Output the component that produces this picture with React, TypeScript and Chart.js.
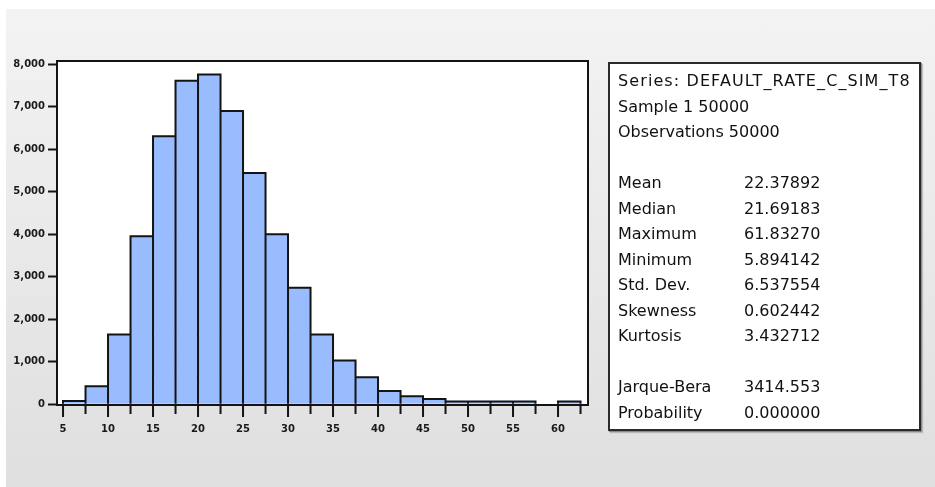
import React, { useEffect, useRef } from 'react';
import { Chart, registerables } from 'chart.js';

Chart.register(...registerables);

// ---- data ----
const binStarts = [5, 7.5, 10, 12.5, 15, 17.5, 20, 22.5, 25, 27.5, 30, 32.5, 35, 37.5, 40, 42.5, 45, 47.5, 50, 52.5, 55, 57.5, 60];
const binWidth = 2.5;
const counts = [75, 420, 1640, 3955, 6310, 7615, 7765, 6905, 5445, 4000, 2740, 1640, 1030, 635, 310, 185, 120, 60, 60, 60, 60, 0, 65];

const xTickValues = [5, 7.5, 10, 12.5, 15, 17.5, 20, 22.5, 25, 27.5, 30, 32.5, 35, 37.5, 40, 42.5, 45, 47.5, 50, 52.5, 55, 57.5, 60, 62.5];
const xTickLabels = [5, 10, 15, 20, 25, 30, 35, 40, 45, 50, 55, 60];
const yTickValues = [0, 1000, 2000, 3000, 4000, 5000, 6000, 7000, 8000];

const headerLines = ['Series: DEFAULT_RATE_C_SIM_T8', 'Sample 1 50000', 'Observations 50000'];
const statNames = ['Mean', 'Median', 'Maximum', 'Minimum', 'Std. Dev.', 'Skewness', 'Kurtosis'];
const statValues = ['22.37892', '21.69183', '61.83270', '5.894142', '6.537554', '0.602442', '3.432712'];
const testNames = ['Jarque-Bera', 'Probability'];
const testValues = ['3414.553', '0.000000'];

const W = 935;
const H = 487;
const tickFont = { family: 'DejaVu Sans', size: 10, weight: 'bold' as const };
const textColor = '#1a1a1a';
const lineColor = '#141414';

const framePlugin = {
  id: 'frame',
  beforeDatasetsDraw(chart: any) {
    const { ctx, chartArea } = chart;
    ctx.save();
    ctx.fillStyle = '#ffffff';
    ctx.fillRect(chartArea.left, chartArea.top, chartArea.right - chartArea.left, chartArea.bottom - chartArea.top);
    ctx.restore();
  },
  afterDatasetsDraw(chart: any) {
    const { ctx, chartArea } = chart;
    const xs = chart.scales.x;
    ctx.save();
    ctx.strokeStyle = lineColor;
    ctx.lineWidth = 2;
    // bar outlines (sides and top), centred on the bar edges
    const meta = chart.getDatasetMeta(0);
    ctx.beginPath();
    meta.data.forEach((bar: any, i: number) => {
      if (!counts[i]) return;
      const { x, y, base, width } = bar.getProps(['x', 'y', 'base', 'width'], true);
      const l = x - width / 2;
      const r = x + width / 2;
      ctx.moveTo(l, base);
      ctx.lineTo(l, y);
      ctx.lineTo(r, y);
      ctx.lineTo(r, base);
    });
    ctx.stroke();
    ctx.strokeRect(chartArea.left, chartArea.top, chartArea.right - chartArea.left, chartArea.bottom - chartArea.top);
    // x tick marks: labelled ones longer
    ctx.beginPath();
    xTickValues.forEach((v) => {
      const px = xs.getPixelForValue(v);
      const len = xTickLabels.includes(v) ? 12 : 9;
      ctx.moveTo(px, chartArea.bottom);
      ctx.lineTo(px, chartArea.bottom + len);
    });
    ctx.stroke();
    ctx.restore();
  },
};

function StatsBox() {
  const lineH = 25.5;
  const row = (name: string, value: string, key: string) => (
    <div key={key} style={{ display: 'flex', height: lineH, lineHeight: lineH + 'px', whiteSpace: 'nowrap' }}>
      <span style={{ width: 126, display: 'inline-block' }}>{name}</span>
      <span>{value}</span>
    </div>
  );
  return (
    <div
      style={{
        position: 'absolute',
        left: 608,
        top: 62,
        width: 313,
        height: 369,
        boxSizing: 'border-box',
        border: '2px solid #2a2a2a',
        boxShadow: '1px 1px 0 #8a8a8a, 2px 2px 1px rgba(0,0,0,0.18)',
        background: '#ffffff',
        padding: '4px 0 0 8px',
        fontFamily: '"DejaVu Sans", sans-serif',
        fontSize: 16,
        color: '#111111',
      }}
    >
      {headerLines.map((t, i) => (
        <div
          key={'h' + i}
          style={{ height: lineH, lineHeight: lineH + 'px', whiteSpace: 'nowrap', letterSpacing: i === 0 ? '1.1px' : 'normal' }}
        >
          {t}
        </div>
      ))}
      <div style={{ height: lineH }} />
      {statNames.map((n, i) => row(n, statValues[i], 's' + i))}
      <div style={{ height: lineH }} />
      {testNames.map((n, i) => row(n, testValues[i], 't' + i))}
    </div>
  );
}

export default function App() {
  const canvasRef = useRef<HTMLCanvasElement | null>(null);

  useEffect(() => {
    const canvas = canvasRef.current;
    if (!canvas) return;
    const chart = new Chart(canvas, {
      type: 'bar',
      data: {
        datasets: [
          {
            data: binStarts.map((s, i) => ({ x: s + binWidth / 2, y: counts[i] })),
            backgroundColor: '#99bcff',
            borderWidth: 0,
            inflateAmount: 0,
            barPercentage: 1,
            categoryPercentage: 1,
          } as any,
        ],
      },
      options: {
        responsive: false,
        animation: false,
        devicePixelRatio: 1,
        layout: { padding: { left: 0, top: 61, right: W - 588, bottom: 0 } },
        plugins: { legend: { display: false }, tooltip: { enabled: false } },
        scales: {
          x: {
            type: 'linear',
            offset: false,
            min: 4.33,
            max: 63.33,
            afterBuildTicks: (s: any) => {
              s.ticks = xTickValues.map((v) => ({ value: v }));
            },
            afterFit: (s: any) => {
              s.height = 82;
            },
            grid: { offset: false, drawOnChartArea: false, drawTicks: false },
            border: { display: false },
            ticks: {
              autoSkip: false,
              maxRotation: 0,
              padding: 18,
              font: tickFont,
              color: textColor,
              callback: (v: any) => (xTickLabels.includes(v) ? String(v) : ''),
            },
          },
          y: {
            type: 'linear',
            min: -20,
            max: 8080,
            afterBuildTicks: (s: any) => {
              s.ticks = yTickValues.map((v) => ({ value: v }));
            },
            afterFit: (s: any) => {
              s.width = 57;
            },
            grid: { drawOnChartArea: false, drawTicks: true, tickLength: 9, tickWidth: 2, tickColor: lineColor },
            border: { display: false },
            ticks: {
              padding: 3,
              font: tickFont,
              color: textColor,
              callback: (v: any) => Number(v).toLocaleString('en-US'),
            },
          },
        },
      },
      plugins: [framePlugin],
    });
    return () => chart.destroy();
  }, []);

  return (
    <div style={{ position: 'fixed', left: 0, top: 0, width: W, height: H, background: '#ffffff', overflow: 'hidden' }}>
      <div
        style={{
          position: 'absolute',
          left: 6,
          top: 9,
          right: 0,
          bottom: 0,
          background: 'linear-gradient(to bottom, #f3f3f3, #dfdfdf)',
        }}
      />
      <canvas ref={canvasRef} width={W} height={H} style={{ position: 'absolute', left: 0, top: 0, width: W, height: H }} />
      <StatsBox />
    </div>
  );
}
